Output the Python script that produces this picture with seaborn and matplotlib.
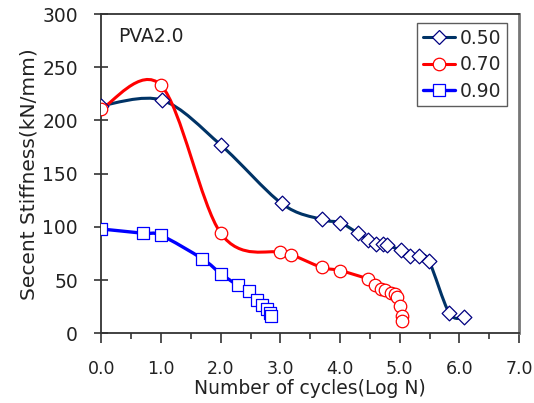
import numpy as np
import pandas as pd
import matplotlib
matplotlib.use("Agg")
import matplotlib.pyplot as plt
from matplotlib.path import Path
from matplotlib.patches import PathPatch
from matplotlib.lines import Line2D
import seaborn as sns

# data
x_050 = [0.00, 1.02, 2.00, 3.02, 3.69, 4.00, 4.30, 4.47, 4.61, 4.72, 4.78, 5.02, 5.18, 5.32, 5.49, 5.83, 6.08]
y_050 = [214, 219, 177, 122, 107, 104, 94, 88, 84, 84, 83, 78, 73, 73, 68, 19, 15]

x_070 = [0.00, 1.00, 2.00, 3.00, 3.18, 3.69, 4.00, 4.46, 4.59, 4.69, 4.76, 4.85, 4.92, 4.96, 5.01, 5.03, 5.04]
y_070 = [211, 233, 94, 76, 74, 62, 59, 51, 45, 42, 41, 38, 37, 34, 26, 16, 12]

x_090 = [0.00, 0.70, 1.00, 1.69, 2.00, 2.29, 2.48, 2.60, 2.69, 2.77, 2.83, 2.85]
y_090 = [98, 94, 92, 70, 56, 45, 40, 31, 27, 23, 19, 16]

labels = ["0.50", "0.70", "0.90"]
line_colors = ["#003366", "#ff0000", "#0000ff"]
edge_colors = ["#000080", "#ff0000", "#0000ff"]
markers = ["D", "o", "s"]
msizes = [7.5, 9, 8.5]
lwidths = [2.2, 2.2, 2.4]

sns.set_style("ticks")
plt.rcParams['font.family'] = ['DejaVu Sans']


def smooth_path(xs, ys):
    # Catmull-Rom style bezier, like the spreadsheet "smoothed line"
    p = np.column_stack([xs, ys]).astype(float)
    verts = [p[0]]
    codes = [Path.MOVETO]
    n = len(p)
    for i in range(n - 1):
        p0 = p[i - 1] if i > 0 else p[i]
        p3 = p[i + 2] if i + 2 < n else p[i + 1]
        c1 = p[i] + (p[i + 1] - p0) / 6.0
        c2 = p[i + 1] - (p3 - p[i]) / 6.0
        verts += [c1, c2, p[i + 1]]
        codes += [Path.CURVE4] * 3
    return Path(verts, codes)


fig, ax = plt.subplots(figsize=(5.34, 4.03), dpi=100)
fig.subplots_adjust(left=0.190, right=0.972, bottom=0.173, top=0.965)

series = [(x_050, y_050), (x_070, y_070), (x_090, y_090)]
handles = []
for k, (xs, ys) in enumerate(series):
    patch = PathPatch(smooth_path(xs, ys), facecolor="none", edgecolor=line_colors[k],
                      lw=lwidths[k], zorder=2, capstyle="round", joinstyle="round")
    ax.add_patch(patch)
    df = pd.DataFrame({"x": xs, "y": ys})
    sns.scatterplot(data=df, x="x", y="y", ax=ax, marker=markers[k], s=msizes[k] ** 2,
                    facecolor="white", edgecolor=edge_colors[k], linewidth=0.9, zorder=3 + k)
    handles.append(Line2D([], [], color=line_colors[k], lw=lwidths[k], marker=markers[k],
                          markersize=msizes[k], markerfacecolor="white",
                          markeredgecolor=edge_colors[k], markeredgewidth=0.9))

ax.set_xlim(0, 7)
ax.set_ylim(0, 300)
ax.set_xticks(np.arange(0, 7.01, 1.0))
ax.set_xticklabels([f"{v:.1f}" for v in np.arange(0, 7.01, 1.0)])
ax.set_xticks(np.arange(0.5, 7, 1.0), minor=True)
ax.set_yticks(np.arange(0, 301, 50))

for s in ax.spines.values():
    s.set_color("#333333")
    s.set_linewidth(1.3)
    s.set_visible(True)
ax.spines["right"].set_color("#777777")
ax.spines["right"].set_linewidth(2)

ax.tick_params(axis="x", which="major", direction="out", length=7, width=1.2,
               color="#333333", labelsize=12.5, pad=12, labelcolor="#222222")
ax.tick_params(axis="x", which="minor", direction="out", length=4, width=1.2, color="#333333")
ax.tick_params(axis="y", which="major", direction="inout", length=10, width=1.2,
               color="#333333", labelsize=13.5, pad=12, labelcolor="#222222")

ax.set_xlabel("Number of cycles(Log N)", fontsize=13.5, color="#222222", labelpad=1)
ax.set_ylabel("Secent Stiffness(kN/mm)", fontsize=14.5, color="#222222", labelpad=3)

ax.text(0.041, 0.93, "PVA2.0", transform=ax.transAxes, fontsize=13.5, color="#222222",
        ha="left", va="center")

leg = ax.legend(handles, labels, loc="upper right", bbox_to_anchor=(0.972, 0.972),
                fontsize=13.5, frameon=True, fancybox=False, handlelength=1.7,
                handletextpad=0.3, labelspacing=0.4, borderpad=0.3, borderaxespad=0)
leg.get_frame().set_edgecolor("#333333")
leg.get_frame().set_linewidth(1.0)

fig.savefig("out.png", dpi=100)
